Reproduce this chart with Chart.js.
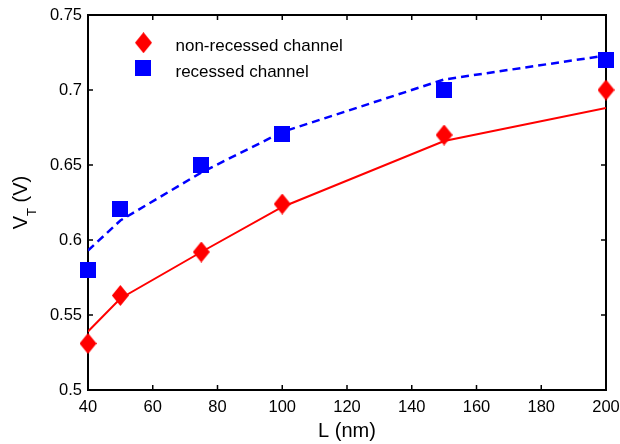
<!DOCTYPE html>
<html>
<head>
<meta charset="utf-8">
<script src="https://cdn.jsdelivr.net/npm/chart.js@4"></script>
<style>
  body { margin: 0; background: #fff; }
  canvas { display: block; }
</style>
</head>
<body>
<canvas id="grafico" width="620" height="444"></canvas>
<script>
// dati
const lengths = [40, 50, 75, 100, 150, 200];
const vtNonRecessed = [0.531, 0.563, 0.592, 0.624, 0.670, 0.700];
const vtRecessed = [0.580, 0.621, 0.650, 0.671, 0.700, 0.720];
// curve di fit
const fitNonRecessed = [0.539, 0.561, 0.592, 0.622, 0.666, 0.688];
const fitRecessed = [0.593, 0.613, 0.645, 0.672, 0.707, 0.723];
// etichette assi
const xTicks = [40, 60, 80, 100, 120, 140, 160, 180, 200];
const yTicks = [0.5, 0.55, 0.6, 0.65, 0.7, 0.75];
const yTickLabels = ['0.5', '0.55', '0.6', '0.65', '0.7', '0.75'];
const labels = ['non-recessed channel', 'recessed channel'];

const RED = '#ff0000';
const BLUE = '#0000ff';
const FONT = '"Liberation Sans", Arial, sans-serif';

function pts(ys) {
  return lengths.map((x, i) => ({ x: x, y: ys[i] }));
}

// marker come canvas
function diamond(w, h, col) {
  const c = document.createElement('canvas');
  c.width = w; c.height = h;
  const g = c.getContext('2d');
  g.fillStyle = col;
  g.beginPath();
  g.moveTo(w / 2, 0); g.lineTo(w, h / 2); g.lineTo(w / 2, h); g.lineTo(0, h / 2);
  g.closePath(); g.fill();
  return c;
}
function square(s, col) {
  const c = document.createElement('canvas');
  c.width = s; c.height = s;
  const g = c.getContext('2d');
  g.fillStyle = col;
  g.fillRect(0, 0, s, s);
  return c;
}
const redDiamond = diamond(17, 21, RED);
const blueSquare = square(16, BLUE);

// cornice, tick interni, titoli e legenda
const cornice = {
  id: 'cornice',
  beforeDatasetsDraw(chart) {
    const { ctx, chartArea: a, scales: { x, y } } = chart;
    ctx.save();
    ctx.strokeStyle = '#000';
    ctx.lineWidth = 2;
    ctx.strokeRect(a.left, a.top, a.right - a.left, a.bottom - a.top);
    ctx.lineWidth = 1.5;
    ctx.beginPath();
    xTicks.forEach(v => {
      const px = x.getPixelForValue(v);
      ctx.moveTo(px, a.bottom); ctx.lineTo(px, a.bottom - 5);
      ctx.moveTo(px, a.top); ctx.lineTo(px, a.top + 5);
    });
    yTicks.forEach(v => {
      const py = y.getPixelForValue(v);
      ctx.moveTo(a.left, py); ctx.lineTo(a.left + 5, py);
      ctx.moveTo(a.right, py); ctx.lineTo(a.right - 5, py);
    });
    ctx.stroke();
    ctx.restore();
  },
  afterDraw(chart) {
    const { ctx, chartArea: a } = chart;
    ctx.save();
    ctx.fillStyle = '#000';
    // titolo asse x
    ctx.font = '20px ' + FONT;
    ctx.textAlign = 'center';
    ctx.textBaseline = 'alphabetic';
    ctx.fillText('L (nm)', (a.left + a.right) / 2, 437);
    // titolo asse y con pedice
    ctx.translate(27, (a.top + a.bottom) / 2);
    ctx.rotate(-Math.PI / 2);
    ctx.textAlign = 'left';
    ctx.font = '20px ' + FONT;
    const wV = ctx.measureText('V').width;
    const wRest = ctx.measureText(' (V)').width;
    ctx.font = '13px ' + FONT;
    const wT = ctx.measureText('T').width;
    let sx = -(wV + wT + wRest) / 2;
    ctx.font = '20px ' + FONT;
    ctx.fillText('V', sx, 0);
    sx += wV;
    ctx.font = '13px ' + FONT;
    ctx.fillText('T', sx, 9);
    sx += wT;
    ctx.font = '20px ' + FONT;
    ctx.fillText(' (V)', sx, 0);
    ctx.restore();

    // legenda
    ctx.save();
    ctx.drawImage(redDiamond, 143.5 - 8.5, 42.7 - 10.5);
    ctx.drawImage(blueSquare, 143.3 - 8, 68.3 - 8);
    ctx.fillStyle = '#000';
    ctx.font = '17px ' + FONT;
    ctx.textBaseline = 'alphabetic';
    ctx.fillText(labels[0], 175.5, 51);
    ctx.fillText(labels[1], 175.5, 76.5);
    ctx.restore();
  }
};

new Chart(document.getElementById('grafico'), {
  type: 'line',
  data: {
    datasets: [
      {
        label: 'fit ' + labels[0],
        data: pts(fitNonRecessed),
        borderColor: RED,
        borderWidth: 2,
        pointRadius: 0,
        tension: 0,
        fill: false
      },
      {
        label: 'fit ' + labels[1],
        data: pts(fitRecessed),
        borderColor: BLUE,
        borderWidth: 2.5,
        borderDash: [8, 5],
        pointRadius: 0,
        tension: 0,
        fill: false
      },
      {
        label: labels[0],
        data: pts(vtNonRecessed),
        showLine: false,
        pointStyle: redDiamond,
        pointRadius: 8,
        clip: false
      },
      {
        label: labels[1],
        data: pts(vtRecessed),
        showLine: false,
        pointStyle: blueSquare,
        pointRadius: 8,
        clip: false
      }
    ]
  },
  options: {
    responsive: false,
    animation: false,
    events: [],
    layout: { padding: { top: 15, right: 14, left: 0, bottom: 0 } },
    plugins: {
      legend: { display: false },
      tooltip: { enabled: false }
    },
    scales: {
      x: {
        type: 'linear',
        min: 40,
        max: 200,
        afterFit: s => { s.height = 54; s.paddingLeft = 0; s.paddingRight = 0; },
        afterBuildTicks: s => { s.ticks = xTicks.map(v => ({ value: v })); },
        grid: { display: false, drawTicks: false },
        border: { display: false },
        ticks: {
          padding: 8,
          color: '#000',
          font: { family: FONT, size: 16.5 },
          maxRotation: 0,
          callback: v => String(v)
        }
      },
      y: {
        min: 0.5,
        max: 0.75,
        afterFit: s => { s.width = 88; s.paddingTop = 0; s.paddingBottom = 0; },
        afterBuildTicks: s => { s.ticks = yTicks.map(v => ({ value: v })); },
        grid: { display: false, drawTicks: false },
        border: { display: false },
        ticks: {
          padding: 6,
          color: '#000',
          font: { family: FONT, size: 16.5 },
          callback: (v, i) => yTickLabels[i]
        }
      }
    }
  },
  plugins: [cornice]
});
</script>
</body>
</html>
